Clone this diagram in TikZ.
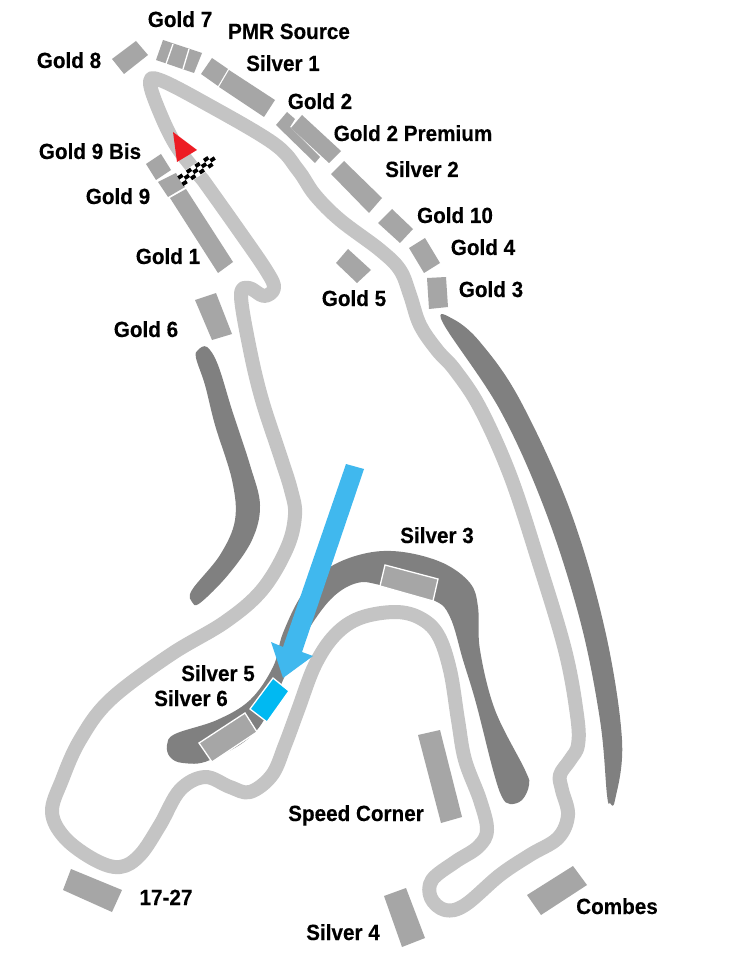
\documentclass[tikz,border=0pt]{standalone}
\usepackage{fontspec}
\setmainfont{Liberation Sans}[BoldFeatures={FakeStretch=0.94,FakeBold=0.25}]
\definecolor{trackc}{HTML}{C4C4C4}
\definecolor{darkc}{HTML}{808080}
\definecolor{standc}{HTML}{A6A6A6}
\definecolor{bluec}{HTML}{00B9F2}
\definecolor{arrowc}{HTML}{40B8EE}
\definecolor{redc}{HTML}{ED1C24}
\tikzset{
  track/.style={draw=trackc,line width=14pt,line join=round,line cap=round},
  bank/.style={fill=darkc},
  stand/.style={fill=standc},
  outlined/.style={fill=standc,draw=white,line width=1.3pt,line join=miter},
  divider/.style={draw=white,line width=1.3pt},
  lab/.style={font=\bfseries\fontsize{22}{24}\selectfont,text=black,inner sep=0pt,text height=16pt,text depth=0pt,anchor=center}
}
\begin{document}
\begin{tikzpicture}[x=1pt,y=-1pt]
\useasboundingbox (0,0) rectangle (741,957);
\fill[white] (0,0) rectangle (741,957);
% banks
\fill[bank] plot[smooth cycle,tension=.6] coordinates {(198,350)(207,347)(218,365)(232,410)(250,465)(260,505)(252,540)(228,575)(200,603)(192,602)(192,590)(220,555)(235,520)(232,480)(215,425)(205,385)(196,358)};
\fill[bank] plot[smooth cycle,tension=.6] coordinates {(443,323)(453,319)(480,342)(520,400)(570,510)(605,630)(622,740)(615,800)(610,803)(607,795)(600,720)(580,620)(545,510)(500,410)};
\fill[bank] plot[smooth cycle,tension=.6] coordinates {(167,745)(175,734)(217,720)(250,700)(273,667)(283,633)(303,593)(330,567)(367,553)(403,552)(443,563)(470,583)(478,607)(480,650)(495,710)(525,770)(529,785)(522,800)(510,804)(502,797)(493,770)(476,703)(463,660)(450,617)(433,600)(380,585)(357,583)(333,597)(310,627)(290,665)(257,730)(210,760)(183,763)(170,757)};
% track
\draw[track] plot[smooth,tension=.6] coordinates {(203,180)(235,225)(266,270)(274,288)(264,296)(249,288)(241,296)(250,350)(262,400)(280,455)(291,490)(295,515)(287,548)(262,590)(225,622)(170,655)(110,700)(80,740)(62,780)(52,812)(65,838)(95,860)(120,867)(140,855)(160,825)(180,790)(205,777)(230,787)(250,792)(272,775)(285,745)(298,710)(315,665)(335,635)(360,618)(395,612)(420,618)(438,635)(450,670)(458,720)(465,760)(480,800)(487,830)(478,847)(455,862)(432,880)(431,898)(445,910)(465,905)(500,875)(530,855)(558,838)(568,815)(562,790)(560,775)(570,760)(578,745)(577,715)(565,650)(538,560)(510,475)(480,408)(455,370)(437,350)(420,325)(410,295)(400,270)(380,250)(340,220)(315,195)(298,170)(273,143)(203,102)(160,80)(150,83)(160,113)(177,147)(203,180)};
% stands
\fill[stand] (136,41)--(148,55)--(124,74)--(112,59)--cycle;
\fill[stand] (163,40)--(202,53)--(194,73)--(156,60)--cycle;
\draw[divider] (173,44)--(166,64);
\draw[divider] (189,49)--(183,69);
\fill[stand] (212,58)--(228,69)--(218,86)--(201,74)--cycle;
\fill[stand] (229,70)--(275,100)--(264,117)--(219,87)--cycle;
\fill[stand] (287,112)--(295,119)--(290,127)--(320,157)--(315,163)--(276,125)--cycle;
\fill[stand] (302,115)--(341,151)--(329,163)--(291,128)--cycle;
\fill[stand] (344,161)--(382,198)--(369,213)--(331,174)--cycle;
\fill[stand] (392,209)--(413,229)--(400,243)--(378,223)--cycle;
\fill[stand] (425,238)--(440,263)--(424,273)--(409,248)--cycle;
\fill[stand] (427,278)--(446,277)--(448,307)--(429,309)--cycle;
\fill[stand] (348,249)--(371,270)--(357,283)--(336,263)--cycle;
\fill[stand] (161,154)--(171,170)--(156,180)--(146,164)--cycle;
\fill[stand] (176,173)--(185,187)--(168,197)--(158,182)--cycle;
\fill[stand] (186,189)--(233,262)--(218,273)--(170,198)--cycle;
\fill[stand] (216,293)--(232,334)--(212,340)--(195,300)--cycle;
\fill[stand] (418,735)--(440,730)--(462,817)--(441,823)--cycle;
\fill[stand] (384,896)--(406,888)--(425,938)--(402,947)--cycle;
\fill[stand] (573,866)--(587,885)--(541,915)--(527,895)--cycle;
\fill[stand] (71,869)--(122,890)--(112,912)--(63,890)--cycle;
\path[outlined] (385,565)--(438,579)--(433,601)--(380,586)--cycle;
\path[outlined] (245,713)--(257,732)--(212,762)--(199,743)--cycle;
\path[outlined,fill=bluec] (273,678)--(289,691)--(267,722)--(250,709)--cycle;
% big arrow
\fill[arrowc] (346,464)--(364,469)--(302,652)--(313,656)--(283,678)--(271,642)--(283,647)--cycle;
% flag
\fill[white] (177,176)--(208,155)--(216,165)--(184,186)--cycle;
\foreach \i in {0,...,7}{\foreach \j in {0,1,2}{
  \pgfmathsetmacro{\ox}{183.5+\i*4.3-\j*2.1}
  \pgfmathsetmacro{\oy}{186-\i*2.9-\j*3.2}
  \pgfmathparse{int(mod(\i+\j,2))}
  \ifnum\pgfmathresult=0
    \fill[black] (\ox,\oy)--++(4.3,-2.9)--++(-2.1,-3.2)--++(-4.3,2.9)--cycle;
  \fi
}}
\fill[redc] (173,132)--(197,150)--(177,162)--cycle;
% labels
\node[lab] (g7) at (180,19) {Gold 7};
\node[lab] (pmr) at (289,31) {PMR Source};
\node[lab] (s1) at (283,63) {Silver 1};
\node[lab] (g8) at (69,60) {Gold 8};
\node[lab] (g2) at (320,101) {Gold 2};
\node[lab] (g2p) at (413,133) {Gold 2 Premium};
\node[lab] (s2) at (422,169) {Silver 2};
\node[lab] (g10) at (455,215) {Gold 10};
\node[lab] (g4) at (483,247) {Gold 4};
\node[lab] (g3) at (491,289) {Gold 3};
\node[lab] (g5) at (354,298) {Gold 5};
\node[lab] (g9b) at (90,151) {Gold 9 Bis};
\node[lab] (g9) at (118,196) {Gold 9};
\node[lab] (g1) at (168,256) {Gold 1};
\node[lab] (g6) at (146,329) {Gold 6};
\node[lab] (s3) at (437,535) {Silver 3};
\node[lab] (s5) at (218,673) {Silver 5};
\node[lab] (s6) at (191,698) {Silver 6};
\node[lab] (sc) at (356,813) {Speed Corner};
\node[lab] (t) at (166,897) {17-27};
\node[lab] (s4) at (343,932) {Silver 4};
\node[lab] (cb) at (617,906) {Combes};
\end{tikzpicture}
\end{document}
